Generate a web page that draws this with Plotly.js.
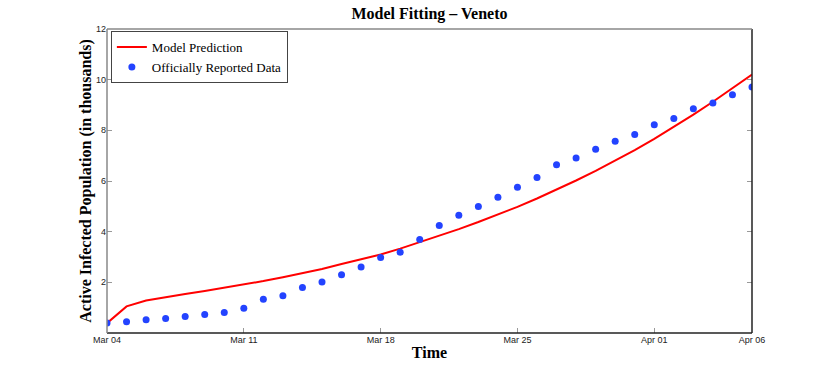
<!DOCTYPE html>
<html>
<head>
<meta charset="utf-8">
<script src="https://cdn.plot.ly/plotly-3.0.1.min.js"></script>
<style>
  html, body { margin: 0; padding: 0; background: #fff; }
  #plot { width: 830px; height: 374px; }
</style>
</head>
<body>
<div id="plot"></div>
<script>
// days from Mar 04 to Apr 06 (2020)
const startDate = "2020-03-04";
const nDays = 34;

// active infected (thousands)
const reported = [
    0.39, 0.44, 0.52, 0.57, 0.65, 0.73, 0.81, 0.98, 1.33, 1.47,
    1.80, 2.01, 2.30, 2.61, 2.98, 3.19, 3.69, 4.24, 4.65, 4.99,
    5.36, 5.75, 6.14, 6.64, 6.91, 7.25, 7.57, 7.84, 8.22, 8.47,
    8.85, 9.08, 9.40, 9.71
];
const model = [
    0.39, 1.05, 1.28, 1.42, 1.54, 1.66, 1.78, 1.91, 2.05, 2.20,
    2.36, 2.53, 2.72, 2.91, 3.10, 3.33, 3.58, 3.84, 4.10, 4.38,
    4.67, 4.98, 5.31, 5.66, 6.02, 6.40, 6.80, 7.22, 7.66, 8.13,
    8.62, 9.13, 9.66, 10.20
];
const xTicks = ["2020-03-04", "2020-03-11", "2020-03-18", "2020-03-25", "2020-04-01", "2020-04-06"];
const yTicks = [2, 4, 6, 8, 10, 12];

function dayString(i) {
    const d = new Date(startDate + "T00:00:00Z");
    d.setUTCDate(d.getUTCDate() + i);
    return d.toISOString().slice(0, 10);
}
const dates = [];
for (let i = 0; i < nDays; i++) dates.push(dayString(i));

const serif = "Liberation Serif, Times New Roman, serif";
const sans = "Liberation Sans, Arial, sans-serif";

Plotly.newPlot("plot", [
    {
        x: dates,
        y: model,
        mode: "lines",
        name: "Model Prediction",
        line: { color: "#ff0000", width: 2 }
    },
    {
        x: dates,
        y: reported,
        mode: "markers",
        name: "Officially Reported Data",
        marker: { color: "#2343ff", size: 7 }
    }
], {
    width: 830,
    height: 374,
    paper_bgcolor: "#fff",
    plot_bgcolor: "#fff",
    margin: { l: 107, r: 78, t: 29, b: 41 },
    title: {
        text: "<b>Model Fitting \u2013 Veneto</b>",
        font: { family: serif, size: 16, color: "#000" },
        x: 0.5175, xanchor: "center", y: 0.963, yanchor: "middle"
    },
    xaxis: {
        type: "date",
        range: ["2020-03-04", "2020-04-06"],
        tickvals: xTicks,
        tickformat: "%b %d",
        ticks: "inside",
        ticklen: 5,
        tickcolor: "#999",
        showgrid: false,
        zeroline: false,
        showline: false,
        tickfont: { family: sans, size: 9, color: "#222" },
        title: {
            text: "<b>Time</b>",
            font: { family: serif, size: 16, color: "#000" },
            standoff: 2
        }
    },
    yaxis: {
        range: [0, 12],
        tickvals: yTicks,
        ticks: "inside",
        ticklen: 5,
        tickcolor: "#999",
        mirror: "ticks",
        showgrid: false,
        zeroline: false,
        showline: false,
        tickfont: { family: sans, size: 9, color: "#222" },
        title: {
            text: "<b>Active Infected Population (in thousands)</b>",
            font: { family: serif, size: 16, color: "#000" },
            standoff: 0
        }
    },
    shapes: [
        { type: "line", xref: "paper", yref: "paper", x0: 0, x1: 1, y0: 0, y1: 0, line: { color: "#222", width: 1.5 } },
        { type: "line", xref: "paper", yref: "paper", x0: 1, x1: 1, y0: 0, y1: 1, line: { color: "#222", width: 1.5 } },
        { type: "line", xref: "paper", yref: "paper", x0: 0, x1: 1, y0: 1, y1: 1, line: { color: "#888", width: 1.5 } },
        { type: "line", xref: "paper", yref: "paper", x0: 0, x1: 0, y0: 0, y1: 1, line: { color: "#888", width: 1.5 } }
    ],
    legend: {
        x: 0.006, y: 0.993, xanchor: "left", yanchor: "top",
        bgcolor: "#fff",
        bordercolor: "#444",
        borderwidth: 1,
        font: { family: serif, size: 13, color: "#000" },
        itemwidth: 30
    },
    showlegend: true
}, { displayModeBar: false, staticPlot: true });
</script>
</body>
</html>
